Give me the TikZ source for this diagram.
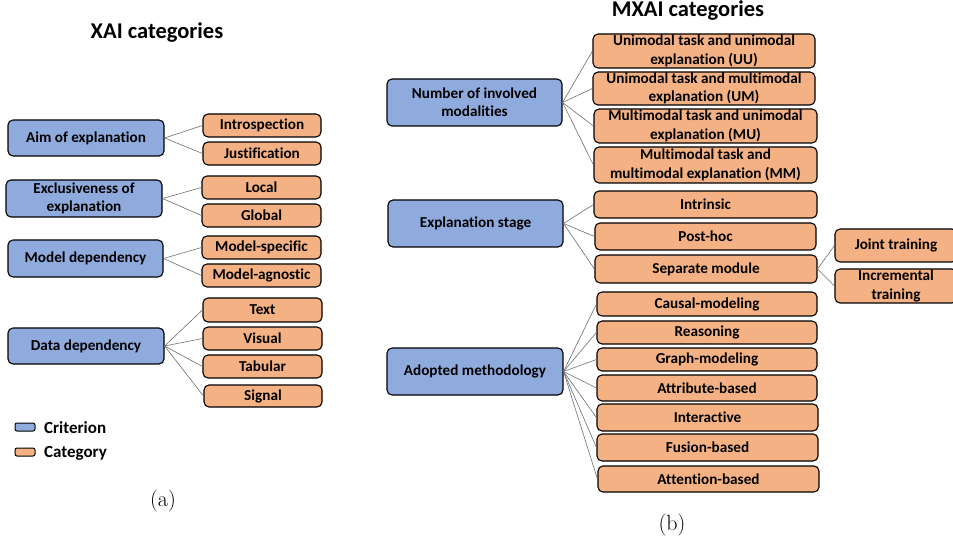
\documentclass[tikz,border=0pt]{standalone}
\usepackage{fontspec}
\newfontfamily\calfont[Ligatures=NoCommon]{Carlito}
\newfontfamily\lmfont{Latin Modern Roman}
\definecolor{critblue}{HTML}{8FAADC}
\definecolor{catorange}{HTML}{F4B183}
\definecolor{connc}{HTML}{6E6E6E}
\tikzset{
  boxbase/.style={draw=black, line width=1.1pt, rounded corners=5pt, inner sep=0pt, align=center,
    font=\calfont\bfseries\fontsize{15.2}{18.3}\selectfont},
  crit/.style 2 args={boxbase, fill=critblue, minimum width=#1, minimum height=#2},
  cat/.style 2 args={boxbase, fill=catorange, minimum width=#1, minimum height=#2},
  conn/.style={draw=connc, line width=0.6pt},
  ttl/.style={font=\calfont\bfseries\fontsize{22.5}{26}\selectfont},
  capt/.style={font=\lmfont\fontsize{22}{25}\selectfont},
  legbox/.style={draw=black, line width=1pt, rounded corners=2pt, minimum width=20, minimum height=8, inner sep=0pt},
  legtxt/.style={anchor=west, inner sep=0pt, font=\calfont\bfseries\fontsize{17}{19}\selectfont}
}
\begin{document}
\begin{tikzpicture}[x=1pt,y=-1pt]
\useasboundingbox (0,0) rectangle (953,545);
% ---------- left panel ----------
\node[ttl] (t1) at (157,33) {XAI categories};
\node[crit={156}{36}] (aim) at (86,138) {Aim of explanation};
\node[cat={118}{23}] (intro) at (262,125.5) {Introspection};
\node[cat={118}{23}] (just) at (262,153.5) {Justification};
\node[crit={156}{37}] (excl) at (84,198.5) {Exclusiveness of\\explanation};
\node[cat={119}{23}] (local) at (261.5,187.5) {Local};
\node[cat={119}{23}] (global) at (261.5,215.5) {Global};
\node[crit={155}{37}] (mdep) at (85.5,258.5) {Model dependency};
\node[cat={119}{23}] (mspec) at (261.5,247.5) {Model-specific};
\node[cat={119}{23}] (magn) at (261.5,275.5) {Model-agnostic};
\node[crit={156}{36}] (ddep) at (86,346) {Data dependency};
\node[cat={119}{24}] (text) at (262.5,310) {Text};
\node[cat={119}{23}] (visual) at (262.5,338.5) {Visual};
\node[cat={119}{23}] (tab) at (262.5,366.5) {Tabular};
\node[cat={118}{22}] (signal) at (263,396) {Signal};
\foreach \a/\b in {aim/intro,aim/just,excl/local,excl/global,mdep/mspec,mdep/magn,ddep/text,ddep/visual,ddep/tab,ddep/signal}
  \draw[conn] (\a.east) -- (\b.west);
\node[legbox, fill=critblue] (lc) at (25,427) {};
\node[legtxt] (lct) at (44,428) {Criterion};
\node[legbox, fill=catorange] (lo) at (25,452) {};
\node[legtxt] (lot) at (44,453) {Category};
\node[capt] (ca) at (163,501) {(a)};
% ---------- right panel ----------
\node[ttl] (t2) at (688,11) {MXAI categories};
\node[crit={175}{47}] (nmod) at (474.5,102.5) {Number of involved\\modalities};
\node[cat={222}{34}] (uu) at (704,51) {Unimodal task and unimodal\\explanation (UU)};
\node[cat={222}{33}] (um) at (704,88.5) {Unimodal task and multimodal\\explanation (UM)};
\node[cat={223}{34}] (mu) at (705.5,126) {Multimodal task and unimodal\\explanation (MU)};
\node[cat={223}{36}] (mm) at (705.5,165) {Multimodal task and\\multimodal explanation (MM)};
\node[crit={175}{47}] (estage) at (475.5,223.5) {Explanation stage};
\node[cat={223}{27}] (intr) at (705.5,204.5) {Intrinsic};
\node[cat={221}{27}] (post) at (705.5,236.5) {Post-hoc};
\node[cat={222}{28}] (sep) at (706,269) {Separate module};
\node[cat={122}{33}] (joint) at (896,245.5) {Joint training};
\node[cat={122}{34}] (incr) at (896,286) {Incremental\\training};
\node[crit={176}{47}] (adopt) at (475,371.5) {Adopted methodology};
\node[cat={220}{24}] (causal) at (707,304) {Causal-modeling};
\node[cat={220}{23}] (reas) at (707,332.5) {Reasoning};
\node[cat={220}{23}] (graph) at (707,359.5) {Graph-modeling};
\node[cat={220}{26}] (attr) at (707,388) {Attribute-based};
\node[cat={221}{27}] (inter) at (707.5,417.5) {Interactive};
\node[cat={221}{27}] (fus) at (707.5,447.5) {Fusion-based};
\node[cat={221}{26}] (att) at (708.5,479) {Attention-based};
\foreach \a/\b in {nmod/uu,nmod/um,nmod/mu,nmod/mm,estage/intr,estage/post,estage/sep,sep/joint,sep/incr,adopt/causal,adopt/reas,adopt/graph,adopt/attr,adopt/inter,adopt/fus,adopt/att}
  \draw[conn] (\a.east) -- (\b.west);
\node[capt] (cb) at (672,525) {(b)};
\end{tikzpicture}
\end{document}
